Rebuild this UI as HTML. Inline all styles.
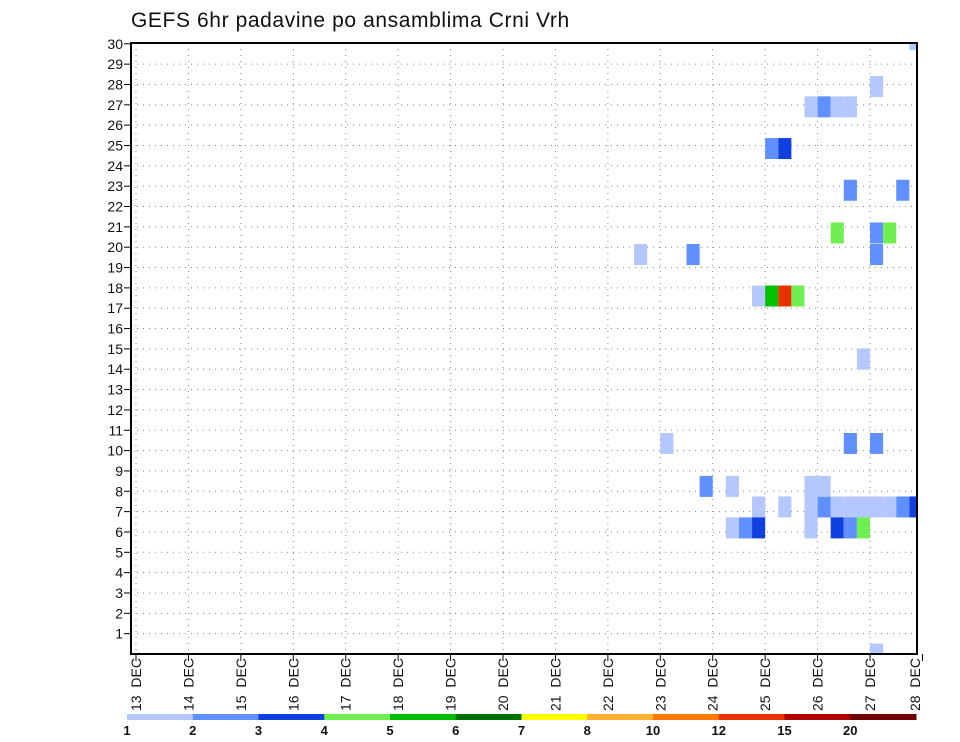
<!DOCTYPE html>
<html><head><meta charset="utf-8"><style>
html,body{margin:0;padding:0;background:#fff;}
svg{display:block;font-family:"Liberation Sans","DejaVu Sans",sans-serif;}
</style></head><body>
<svg id="chart" width="960" height="742" viewBox="0 0 960 742" xmlns="http://www.w3.org/2000/svg">
<text x="131" y="27" font-size="21" fill="#111" letter-spacing="0.6">GEFS 6hr padavine po ansamblima Crni Vrh</text>
</svg>
<script>
// data
const dayLabels = ["13 DEC","14 DEC","15 DEC","16 DEC","17 DEC","18 DEC","19 DEC","20 DEC","21 DEC","22 DEC","23 DEC","24 DEC","25 DEC","26 DEC","27 DEC","28 DEC"];
const memberTicks = [1,2,3,4,5,6,7,8,9,10,11,12,13,14,15,16,17,18,19,20,21,22,23,24,25,26,27,28,29,30];
const levels = [1,2,3,4,5,6,7,8,10,12,15,20];
const levelColors = ["#b4c8ff","#6090ff","#1040e0","#70f050","#00c000","#007000","#ffff00","#ffb030","#ff7800","#e83000","#b00000","#700000"];
// cells: 6-hour step index from 13 DEC 00Z, member position, precipitation (mm)
const cellStep =   [51,52,53,54,56,48,49,54,58,53,56,57,56,47,48,49,50,38,42,55,40,54,56,43,45,47,49,51,53,54,55,56,57,52,58,59,51,51,52,45,46,47,53,54,55,56,59];
const cellMember = [26.9,26.9,26.9,26.9,27.9,24.85,24.85,22.8,22.8,20.7,20.7,20.7,19.64,17.6,17.6,17.6,17.6,19.64,19.64,14.5,10.35,10.35,10.35,8.24,8.24,7.23,7.23,8.24,7.23,7.23,7.23,7.23,7.23,7.23,7.23,7.23,7.23,6.2,8.24,6.2,6.2,6.2,6.2,6.2,6.2,0,30.2];
const cellValue =  [1.5,2.5,1.5,1.5,1.5,2.5,3.5,2.5,2.5,4.5,2.5,4.5,2.5,1.5,5.5,13,4.5,1.5,2.5,1.5,1.5,2.5,2.5,2.5,1.5,1.5,1.5,1.5,1.5,1.5,1.5,1.5,1.5,2.5,2.5,3.5,1.5,1.5,1.5,1.5,2.5,3.5,3.5,2.5,4.5,1.5,1.5];

const svg = document.getElementById('chart');
const NS = "http://www.w3.org/2000/svg";
const L=131,R=917,T=43,B=654;
const x0=136, dayW=52.43;
const xDay = d => x0 + d*dayW;
const yM = v => B - v*20.34;
function mk(tag, attrs){const e=document.createElementNS(NS,tag);for(const k in attrs)e.setAttribute(k,attrs[k]);svg.appendChild(e);return e;}
function colorFor(v){let c=levelColors[0];for(let i=0;i<levels.length;i++){if(v>=levels[i])c=levelColors[i];}return c;}

const defs=mk('defs',{});
const cp=document.createElementNS(NS,'clipPath');cp.setAttribute('id','plotclip');
const cr=document.createElementNS(NS,'rect');cr.setAttribute('x',L);cr.setAttribute('y',T);cr.setAttribute('width',R-L);cr.setAttribute('height',B-T);
cp.appendChild(cr);defs.appendChild(cp);

memberTicks.forEach(m=>{
  if(m<30){
    const g=mk('line',{x1:L,x2:R,y1:yM(m),y2:yM(m),stroke:'#888','stroke-width':1,'stroke-dasharray':'1 5'});
    
    
  }
  const t=mk('line',{x1:L-7,x2:L,y1:yM(m),y2:yM(m),stroke:'#000','stroke-width':1});
  
  
  const lb=mk('text',{x:L-8,y:yM(m)+5,'text-anchor':'end','font-size':14,fill:'#111'});
  lb.textContent=m;
  
  
});
dayLabels.forEach((d,i)=>{
  const x=xDay(i);
  if(x<R-1){
    const g=mk('line',{x1:x,x2:x,y1:T,y2:B,stroke:'#888','stroke-width':1,'stroke-dasharray':'1 5'});
    
    
  }
  const t=mk('line',{x1:x,x2:x,y1:B,y2:B+7,stroke:'#000','stroke-width':1});
  
  
  const xl=Math.min(x,R-2)+5;
  const lb=mk('text',{x:0,y:0,transform:`translate(${xl},${B+4}) rotate(-90)`,'text-anchor':'end','font-size':14,fill:'#111','word-spacing':'4'});
  lb.textContent=d;
  
  
});

const cg=mk('g',{'clip-path':'url(#plotclip)'});


const stepW=dayW/4;
for(let i=0;i<cellStep.length;i++){
  const x=xDay(cellStep[i]/4);
  const yc=yM(cellMember[i]);
  const r=document.createElementNS(NS,'rect');
  r.setAttribute('x',x);r.setAttribute('y',yc-10.5);
  r.setAttribute('width',stepW);r.setAttribute('height',21);
  r.setAttribute('fill',colorFor(cellValue[i]));
  
  
  cg.appendChild(r);
}

const fr=mk('rect',{x:L,y:T,width:R-L,height:B-T,fill:'none',stroke:'#000','stroke-width':2});



const cbL=127, cbR=916, segW=(cbR-cbL)/levels.length;
levelColors.forEach((c,i)=>{
  const r=mk('rect',{x:cbL+i*segW,y:714,width:segW+0.5,height:6,fill:c});
  
  
});
levels.forEach((v,i)=>{
  const t=mk('text',{x:cbL+i*segW,y:735,'text-anchor':'middle','font-size':13,'font-weight':'bold',fill:'#111'});
  t.textContent=v;
  
  
});
</script>
</body></html>
